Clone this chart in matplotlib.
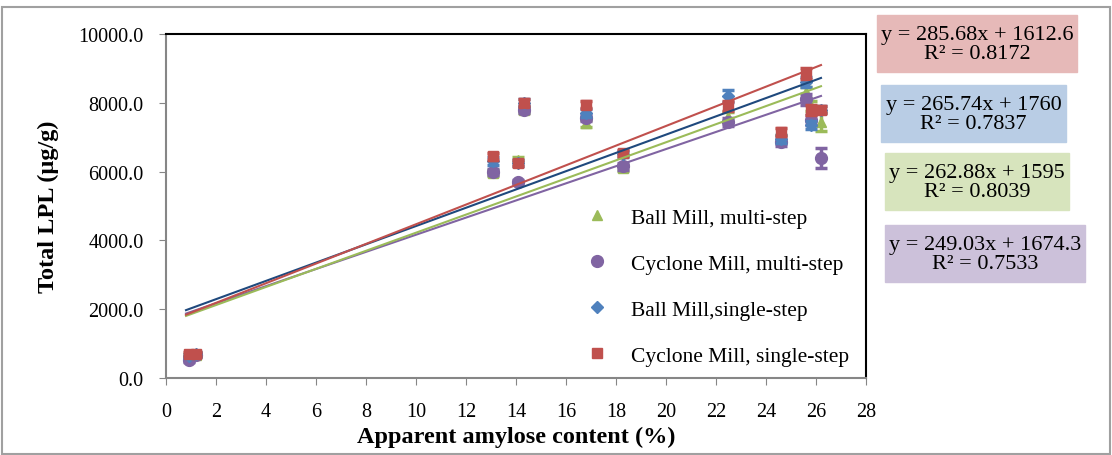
import numpy as np
import matplotlib
matplotlib.use('Agg')
import matplotlib.pyplot as plt
from matplotlib.patches import Rectangle

plt.rcParams['font.family'] = ['Liberation Serif', 'DejaVu Serif']

# apparent amylose content (%) of the samples
amylose = [0.9, 1.2, 13.1, 14.1, 14.3, 16.8, 18.3, 22.5, 24.6, 25.6, 25.8, 26.2]

ball_multi = [650, 680, 5950, 6350, 7800, 7400, 6100, 7600, 6950, 8300, 7900, 7450]
cyc_multi = [520, 680, 6000, 5700, 7800, 7550, 6150, 7450, 6850, 8100, 7500, 6400]
ball_single = [650, 700, 6300, 6250, 8000, 7700, 6500, 8200, 6950, 8600, 7350, 7800]
cyc_single = [700, 700, 6450, 6250, 8000, 7950, 6550, 7900, 7150, 8850, 7800, 7800]

err_ball_multi = [60, 60, 90, 80, 90, 90, 90, 120, 100, 150, 150, 280]
err_cyc_multi = [60, 60, 90, 60, 90, 90, 90, 120, 100, 150, 150, 300]
err_ball_single = [60, 60, 120, 80, 100, 120, 90, 180, 120, 150, 120, 100]
err_cyc_single = [60, 60, 100, 80, 100, 100, 90, 150, 120, 150, 150, 100]

labels = ['Ball Mill, multi-step', 'Cyclone Mill, multi-step',
          'Ball Mill,single-step', 'Cyclone Mill, single-step']

# trendline parameters (slope, intercept, R2)
slopes = [262.88, 249.03, 265.74, 285.68]
intercepts = [1595, 1674.3, 1760, 1612.6]
r2 = ['0.8039', '0.7533', '0.7837', '0.8172']
eq_text = ['y = 262.88x + 1595', 'y = 249.03x + 1674.3',
           'y = 265.74x + 1760', 'y = 285.68x + 1612.6']

marker_colors = ['#9BBB59', '#8064A2', '#4F81BD', '#C0504D']
line_colors = ['#9BBB59', '#8064A2', '#1F497D', '#C0504D']
box_colors = ['#D7E4BD', '#CCC1DA', '#B9CDE5', '#E6B9B8']
markers = ['^', 'o', 'D', 's']
msizes = [7.5, 8.5, 6.5, 6.5]

fig = plt.figure(figsize=(11.12, 4.56), dpi=100)
ax = fig.add_axes([166/1112, 1-379/456, 700/1112, 344/456])

series = [ball_multi, cyc_multi, ball_single, cyc_single]
errs = [err_ball_multi, err_cyc_multi, err_ball_single, err_cyc_single]
x = np.array(amylose)
xl = np.array([x.min() - 0.1, x.max()])
for i in range(4):
    ax.errorbar(x, series[i], yerr=errs[i], fmt=markers[i], color=marker_colors[i],
                ms=msizes[i], mec=marker_colors[i], ecolor=marker_colors[i],
                elinewidth=2.5, capsize=4, capthick=2.5, label=labels[i], zorder=3 + i)
for i in [1, 0, 2, 3]:
    ax.plot(xl, slopes[i] * xl + intercepts[i], color=line_colors[i], lw=1.5, zorder=8)

ax.set_xlim(0, 28)
ax.set_ylim(0, 10000)
ax.set_xticks(range(0, 29, 2))
ax.set_yticks(range(0, 10001, 2000))
ax.set_yticklabels(['%.1f' % v for v in range(0, 10001, 2000)])
ax.tick_params(labelsize=14.5, direction='out', color='#868686', length=5)
ax.tick_params(axis='x', pad=12)
ax.tick_params(axis='y', pad=11)
for s in ['left', 'bottom']:
    ax.spines[s].set_color('#868686')
    ax.spines[s].set_linewidth(1.5)
for s in ['top', 'right']:
    ax.spines[s].set_color('black')
    ax.spines[s].set_linewidth(1.5)

ax.set_xlabel('Apparent amylose content (%)', fontsize=17.5, fontweight='bold', labelpad=4)
ax.set_ylabel('Total LPL (\u00b5g/g)', fontsize=17.5, fontweight='bold', labelpad=14)

h, l = ax.get_legend_handles_labels()
leg = ax.legend([hh[0] for hh in h], l, loc='lower left', bbox_to_anchor=(0.572, -0.02),
                frameon=False, fontsize=15.5, labelspacing=1.2, handletextpad=1.1,
                handlelength=1.0)

# equation boxes outside the plot, top to bottom: red, blue, green, purple
boxes = [(3, 877, 16, 200), (2, 881, 86, 185), (0, 885, 154, 184), (1, 885, 226, 200)]
for idx, left, top, w in boxes:
    fig.patches.append(Rectangle((left/1112, 1-(top+57)/456), w/1112, 57/456,
                                 transform=fig.transFigure, color=box_colors[idx]))
    fig.text((left + w/2)/1112, 1-(top+29)/456, eq_text[idx] + '\nR\u00b2 = ' + r2[idx],
             ha='center', va='center', fontsize=16, linespacing=1.0)

fig.patches.append(Rectangle((0.002, 0.002), 0.996, 1-9/456, transform=fig.transFigure,
                             fill=False, ec='#A0A0A0', lw=1.5))

fig.savefig('out.png', dpi=100)
